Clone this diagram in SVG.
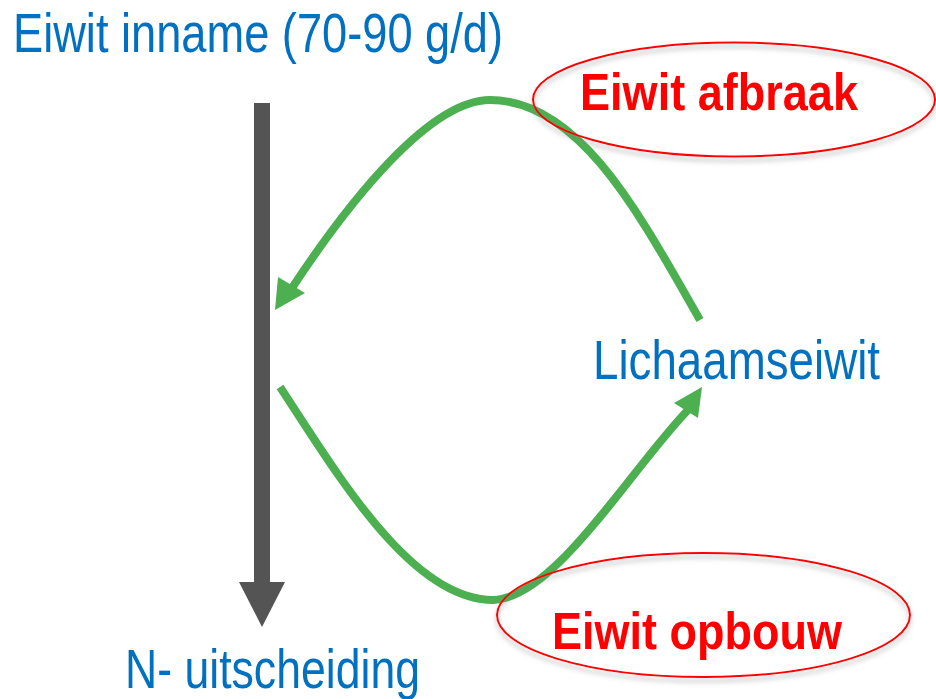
<svg xmlns="http://www.w3.org/2000/svg" width="936" height="699" viewBox="0 0 936 699">
  <style>
    .label { font-family: "Liberation Sans", Arial, sans-serif; fill: #0070C0; font-size: 55px; }
    .tag { font-family: "Liberation Sans", Arial, sans-serif; fill: #FF0000; font-weight: bold; font-size: 52px; }
    .oval { fill: none; stroke: #FF0000; stroke-width: 2; filter: url(#shade); }
    .flow { fill: none; stroke: #4CAF50; stroke-width: 8; }
    .flow-head { fill: #4CAF50; }
    .main { fill: #545454; }
  </style>
  <defs>
    <filter id="shade" x="-10%" y="-20%" width="120%" height="150%">
      <feDropShadow dx="0" dy="4" stdDeviation="2.5" flood-color="#808080" flood-opacity="0.6"/>
    </filter>
  </defs>

  <rect width="936" height="699" fill="#FFFFFF"/>

  <!-- connectors -->
  <g id="connectors">
    <!-- intake to excretion -->
    <rect class="main" x="254" y="103" width="16" height="480"/>
    <polygon class="main" points="239,582 285,582 262,627"/>
    <!-- breakdown: body protein back to the main stream -->
    <path class="flow" d="M 700 320 C 640 215, 580 100, 490 100 C 430 100, 350 200, 292 288"/>
    <polygon class="flow-head" points="275,310 278,277 305,293"/>
    <!-- synthesis: main stream to body protein -->
    <path class="flow" d="M 280 387 C 335 470, 410 600, 493 600 C 555 598, 630 470, 688 410"/>
    <polygon class="flow-head" points="702,387 674,403 698,418"/>
  </g>

  <g id="node-intake">
    <text class="label" x="13" y="52" textLength="490" lengthAdjust="spacingAndGlyphs">Eiwit inname (70-90 g/d)</text>
  </g>

  <g id="node-body">
    <text class="label" transform="translate(593 379) scale(0.832 1)" x="0" y="0" textLength="345" lengthAdjust="spacingAndGlyphs">Lichaamseiwit</text>
  </g>

  <g id="node-excretion">
    <text class="label" x="125" y="688" textLength="295" lengthAdjust="spacingAndGlyphs">N- uitscheiding</text>
  </g>

  <g id="node-breakdown">
    <ellipse class="oval" cx="734" cy="99.5" rx="201" ry="57"/>
    <text class="tag" x="580" y="110" font-size="53" textLength="278" lengthAdjust="spacingAndGlyphs">Eiwit afbraak</text>
  </g>

  <g id="node-synthesis">
    <ellipse class="oval" cx="703.5" cy="615" rx="206.5" ry="62"/>
    <text class="tag" x="552" y="649" textLength="290" lengthAdjust="spacingAndGlyphs">Eiwit opbouw</text>
  </g>
</svg>
